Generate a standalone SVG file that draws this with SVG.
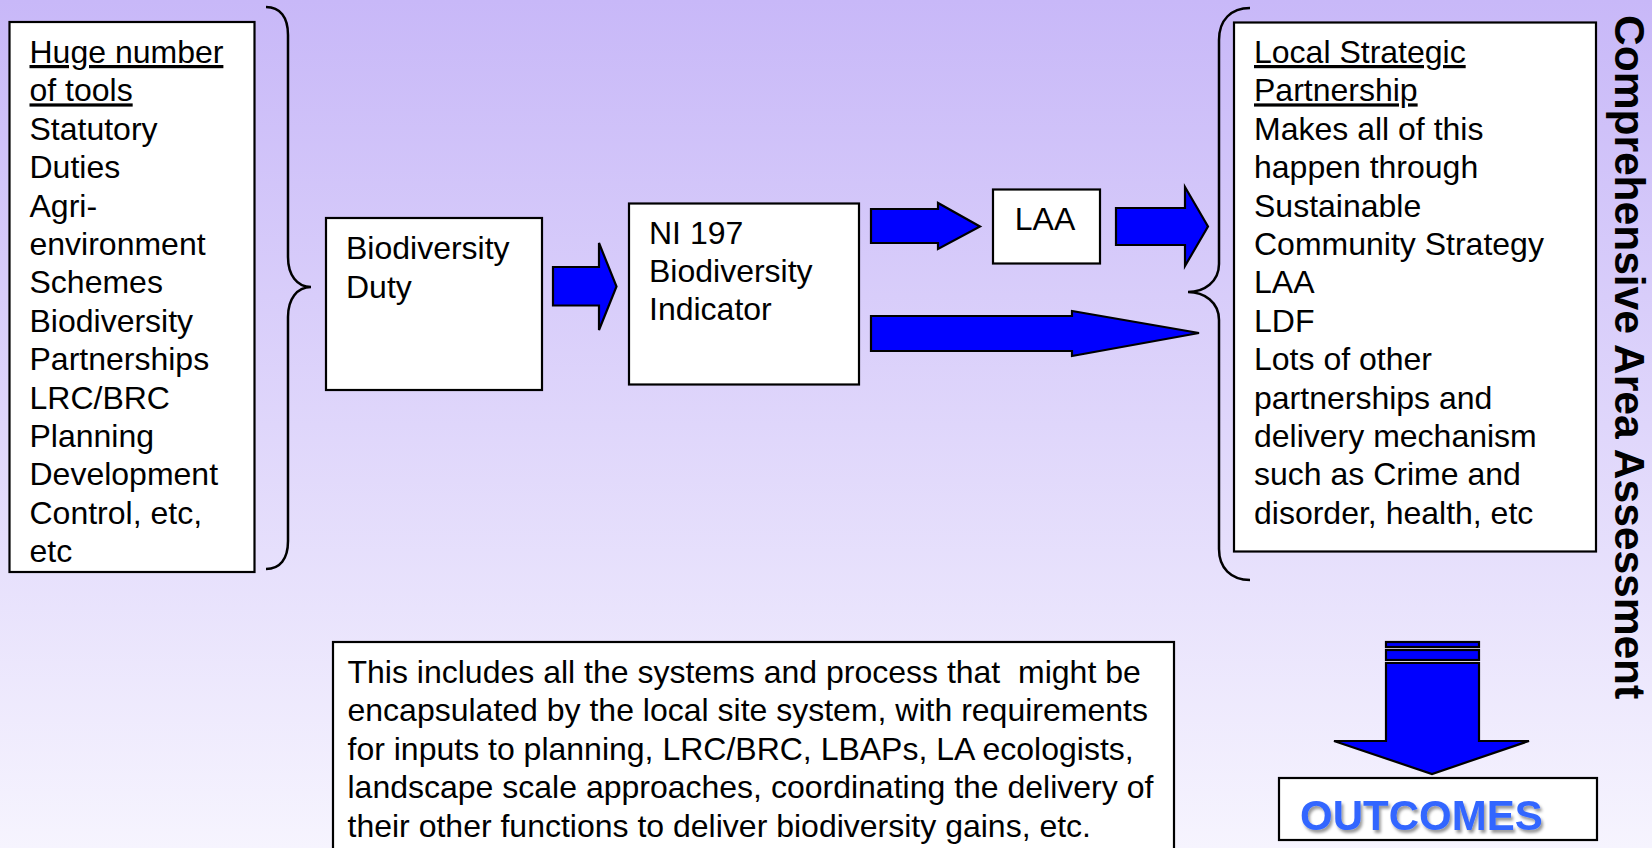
<svg xmlns="http://www.w3.org/2000/svg" width="1652" height="848" viewBox="0 0 1652 848">
<defs>
<linearGradient id="bg" x1="0" y1="0" x2="0" y2="1">
<stop offset="0" stop-color="#c8b8f8"/>
<stop offset="1" stop-color="#f6f4fe"/>
</linearGradient>
<filter id="sh" x="-10%" y="-30%" width="130%" height="180%">
<feDropShadow dx="2" dy="3" stdDeviation="1.5" flood-color="#000" flood-opacity="0.4"/>
</filter>
<style>
.box{fill:#fff;stroke:#000;stroke-width:2.2}
.t{font-family:"Liberation Sans",Arial,sans-serif;font-size:32px;fill:#000}
.u{text-decoration:underline}
.arr{fill:#0000ff;stroke:#000;stroke-width:2.2;stroke-linejoin:miter}
.brace{fill:none;stroke:#000;stroke-width:2.5}
</style>
</defs>
<rect x="0" y="0" width="1652" height="848" fill="url(#bg)"/>

<g id="tools">
<rect class="box" x="9.5" y="22" width="245" height="550"/>
<text class="t" x="29.5" y="63"><tspan class="u">Huge number</tspan></text>
<text class="t" x="29.5" y="101.4"><tspan class="u">of tools</tspan></text>
<text class="t" x="29.5" y="139.8">Statutory</text>
<text class="t" x="29.5" y="178.2">Duties</text>
<text class="t" x="29.5" y="216.6">Agri-</text>
<text class="t" x="29.5" y="255">environment</text>
<text class="t" x="29.5" y="293.4">Schemes</text>
<text class="t" x="29.5" y="331.8">Biodiversity</text>
<text class="t" x="29.5" y="370.2">Partnerships</text>
<text class="t" x="29.5" y="408.6">LRC/BRC</text>
<text class="t" x="29.5" y="447">Planning</text>
<text class="t" x="29.5" y="485.4">Development</text>
<text class="t" x="29.5" y="523.8">Control, etc,</text>
<text class="t" x="29.5" y="562.2">etc</text>
</g>

<g id="duty">
<rect class="box" x="326" y="218" width="216" height="172"/>
<text class="t" x="346" y="259">Biodiversity</text>
<text class="t" x="346" y="297.5">Duty</text>
</g>

<g id="ni197">
<rect class="box" x="629" y="203.5" width="230" height="181"/>
<text class="t" x="649" y="244">NI 197</text>
<text class="t" x="649" y="282">Biodiversity</text>
<text class="t" x="649" y="320">Indicator</text>
</g>

<g id="laa">
<rect class="box" x="993" y="189.5" width="107" height="74"/>
<text class="t" x="1045" y="230" text-anchor="middle">LAA</text>
</g>

<g id="lsp">
<rect class="box" x="1234" y="22.5" width="362" height="529"/>
<text class="t" x="1254" y="63"><tspan class="u">Local Strategic</tspan></text>
<text class="t" x="1254" y="101.4"><tspan class="u">Partnership</tspan></text>
<text class="t" x="1254" y="139.8">Makes all of this</text>
<text class="t" x="1254" y="178.2">happen through</text>
<text class="t" x="1254" y="216.6">Sustainable</text>
<text class="t" x="1254" y="255">Community Strategy</text>
<text class="t" x="1254" y="293.4">LAA</text>
<text class="t" x="1254" y="331.8">LDF</text>
<text class="t" x="1254" y="370.2">Lots of other</text>
<text class="t" x="1254" y="408.6">partnerships and</text>
<text class="t" x="1254" y="447">delivery mechanism</text>
<text class="t" x="1254" y="485.4">such as Crime and</text>
<text class="t" x="1254" y="523.8">disorder, health, etc</text>
</g>

<g id="caa">
<text transform="translate(1615,15) rotate(90)" x="0" y="0" font-family="'Liberation Sans',Arial,sans-serif" font-size="42.5" font-weight="bold" fill="#000">Comprehensive Area Assessment</text>
</g>

<g id="note">
<rect class="box" x="333" y="642" width="841" height="240"/>
<text class="t" x="347.5" y="682.5" xml:space="preserve">This includes all the systems and process that  might be</text>
<text class="t" x="347.5" y="721">encapsulated by the local site system, with requirements</text>
<text class="t" x="347.5" y="759.5">for inputs to planning, LRC/BRC, LBAPs, LA ecologists,</text>
<text class="t" x="347.5" y="798">landscape scale approaches, coordinating the delivery of</text>
<text class="t" x="347.5" y="836.5">their other functions to deliver biodiversity gains, etc.</text>
</g>

<g id="outcomes">
<rect class="box" x="1279" y="778" width="318" height="62"/>
<text x="1300" y="830" font-family="'Liberation Sans',Arial,sans-serif" font-size="42" font-weight="bold" fill="#3366ff" filter="url(#sh)">OUTCOMES</text>
</g>

<g id="connectors">
<path class="brace" d="M266,7 C280,7 288,17 288,35 L288,257 C288,275 297,287 311,287 C297,287 288,299 288,317 L288,541 C288,559 280,569 266,569"/>
<path class="brace" d="M1250,8 C1231,8 1219,20 1219,40 L1219,264 C1219,282 1204,292 1188,292 C1204,292 1219,302 1219,320 L1219,549 C1219,568 1231,580 1250,580"/>
<polygon class="arr" points="553,267 599,267 599,243 616.5,286.5 599,330 599,305.5 553,305.5"/>
<polygon class="arr" points="871,209 938,209 938,203 980,226.5 938,249 938,243 871,243"/>
<polygon class="arr" points="1116,208 1185,208 1185,187 1208,226.5 1185,266 1185,245 1116,245"/>
<polygon class="arr" points="871,316 1072,316 1072,311 1199,333 1072,356 1072,351 871,351"/>
<rect class="arr" x="1386" y="642" width="93" height="5"/>
<rect class="arr" x="1386" y="650" width="93" height="10"/>
<polygon class="arr" points="1386,663 1479,663 1479,741 1529,741 1432,774 1334,741 1386,741"/>
</g>
</svg>
